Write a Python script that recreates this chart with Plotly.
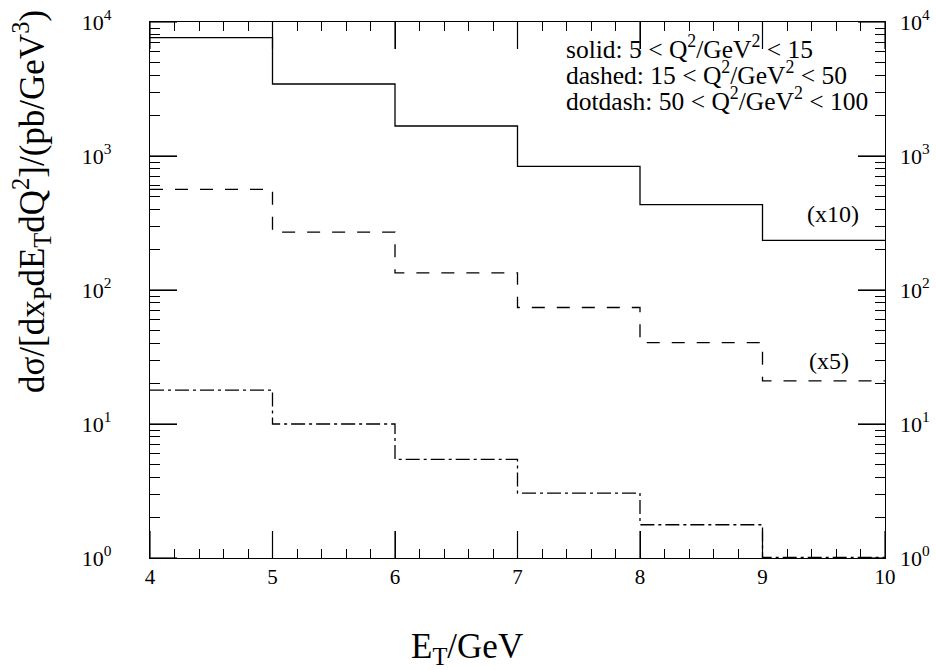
import math
import plotly.graph_objects as go

# Bin edges (E_T / GeV)
bin_edges = [4, 5, 6, 7, 8, 9, 10]
# Cross sections per bin (pb/GeV^3), already scaled as in the figure
solid_vals = [7640, 3445, 1675, 838, 434, 235]      # 5<Q2<15 (x10)
dashed_vals = [564, 270, 134, 74, 40.5, 21]         # 15<Q2<50 (x5)
dotdash_vals = [17.9, 10.0, 5.44, 3.05, 1.77, 1.01] # 50<Q2<100

ytick_vals = [1, 10, 100, 1000, 10000]
ytick_text = ["10<sup>0</sup>", "10<sup>1</sup>", "10<sup>2</sup>", "10<sup>3</sup>", "10<sup>4</sup>"]
ytick_minor = [m * 10 ** d for d in range(4) for m in range(2, 10)]
xtick_vals = [4, 5, 6, 7, 8, 9, 10]
xtick_minor = [round(4 + 0.2 * i, 1) for i in range(31) if i % 5]

FONT = "Liberation Serif"
Y_RANGE = [0, 4]

fig = go.Figure()

def step(vals, dash, name, yaxis="y", opacity=1.0):
    return go.Scatter(
        x=bin_edges, y=vals + [vals[-1]], mode="lines", line_shape="hv",
        line=dict(color="black", width=1.3, dash=dash), name=name,
        showlegend=False, yaxis=yaxis, opacity=opacity, hoverinfo="skip",
    )

fig.add_trace(step(solid_vals, "solid", "solid"))
fig.add_trace(step(dashed_vals, "13px,12px", "dashed"))
fig.add_trace(step(dotdash_vals, "14px,4px,3px,4px", "dotdash"))
# invisible copy that activates the right-hand label axis
fig.add_trace(step(solid_vals, "solid", "overlay", yaxis="y2", opacity=0))

tick_common = dict(tickwidth=1.2, tickcolor="black")

fig.update_layout(
    width=936, height=670,
    margin=dict(l=150, r=51, t=22, b=112, autoexpand=False),
    paper_bgcolor="white", plot_bgcolor="white",
    font=dict(family=FONT, color="black"),
    xaxis=dict(
        range=[bin_edges[0], bin_edges[-1]], tickmode="array", tickvals=xtick_vals,
        ticktext=[str(v) for v in xtick_vals],
        showline=True, linecolor="black", linewidth=1.3, mirror="ticks",
        ticks="inside", ticklen=27, showgrid=False, zeroline=False, automargin=False,
        tickfont=dict(family=FONT, size=21, color="black"),
        minor=dict(ticks="inside", ticklen=9, tickmode="array", tickvals=xtick_minor,
                   showgrid=False, **tick_common),
        **tick_common,
    ),
    yaxis=dict(
        type="log", range=Y_RANGE, tickmode="array", tickvals=ytick_vals, ticktext=ytick_text,
        showline=True, linecolor="black", linewidth=1.3, mirror="ticks",
        ticks="inside", ticklen=27, showgrid=False, zeroline=False, automargin=False,
        ticklabelstandoff=33,
        tickfont=dict(family=FONT, size=22, color="black"),
        minor=dict(ticks="inside", ticklen=10, tickmode="array", tickvals=ytick_minor,
                   showgrid=False, **tick_common),
        **tick_common,
    ),
    yaxis2=dict(
        type="log", range=Y_RANGE, tickmode="array", tickvals=ytick_vals, ticktext=ytick_text,
        overlaying="y", side="right", showline=False, ticks="", showgrid=False, zeroline=False,
        automargin=False, ticklabelstandoff=14,
        tickfont=dict(family=FONT, size=22, color="black"),
    ),
)

# long major tick marks (inside, on all four sides)
MAJOR_LEN = 27
tick_line = dict(color="black", width=1.2)
for v in xtick_vals:
    fig.add_shape(type="line", xref="x", x0=v, x1=v, yref="paper", ysizemode="pixel",
                  yanchor=0, y0=0, y1=MAJOR_LEN, line=tick_line, layer="above")
    fig.add_shape(type="line", xref="x", x0=v, x1=v, yref="paper", ysizemode="pixel",
                  yanchor=1, y0=0, y1=-MAJOR_LEN, line=tick_line, layer="above")
for v in ytick_vals:
    yp = (math.log10(v) - Y_RANGE[0]) / (Y_RANGE[1] - Y_RANGE[0])
    fig.add_shape(type="line", yref="paper", y0=yp, y1=yp, xref="paper", xsizemode="pixel",
                  xanchor=0, x0=0, x1=MAJOR_LEN, line=tick_line, layer="above")
    fig.add_shape(type="line", yref="paper", y0=yp, y1=yp, xref="paper", xsizemode="pixel",
                  xanchor=1, x0=0, x1=-MAJOR_LEN, line=tick_line, layer="above")

# convert pixel positions to paper coordinates
def px_x(p):
    return (p - 150) / (885 - 150)

def px_y(p):
    return (558 - p) / (558 - 22)

# axis titles
fig.add_annotation(x=px_x(467), y=px_y(648), xref="paper", yref="paper",
                   text="E<sub>T</sub>/GeV", showarrow=False, xanchor="center", yanchor="middle",
                   font=dict(family=FONT, size=35))
fig.add_annotation(x=px_x(32), y=px_y(202), xref="paper", yref="paper", textangle=-90,
                   text="dσ/[dx<sub>P</sub>dE<sub>T</sub>dQ<sup>2</sup>]/(pb/GeV<sup>3</sup>)",
                   showarrow=False, xanchor="center", yanchor="middle",
                   font=dict(family=FONT, size=35))

legend_lines = [
    "solid: 5 &lt; Q<sup>2</sup>/GeV<sup>2</sup> &lt; 15",
    "dashed: 15 &lt; Q<sup>2</sup>/GeV<sup>2</sup> &lt; 50",
    "dotdash: 50 &lt; Q<sup>2</sup>/GeV<sup>2</sup> &lt; 100",
]
for i, t in enumerate(legend_lines):
    fig.add_annotation(x=px_x(564), y=px_y(48 + i * 25.5), xref="paper", yref="paper", text=t,
                       showarrow=False, xanchor="left", yanchor="middle",
                       font=dict(family=FONT, size=25.5))

fig.add_annotation(x=px_x(833), y=px_y(214), xref="paper", yref="paper", text="(x10)", showarrow=False,
                   xanchor="center", yanchor="middle", font=dict(family=FONT, size=24))
fig.add_annotation(x=px_x(829), y=px_y(361), xref="paper", yref="paper", text="(x5)", showarrow=False,
                   xanchor="center", yanchor="middle", font=dict(family=FONT, size=24))

fig.write_html("out.html", config={"displayModeBar": False},
               post_script="document.body.style.margin='0';")
